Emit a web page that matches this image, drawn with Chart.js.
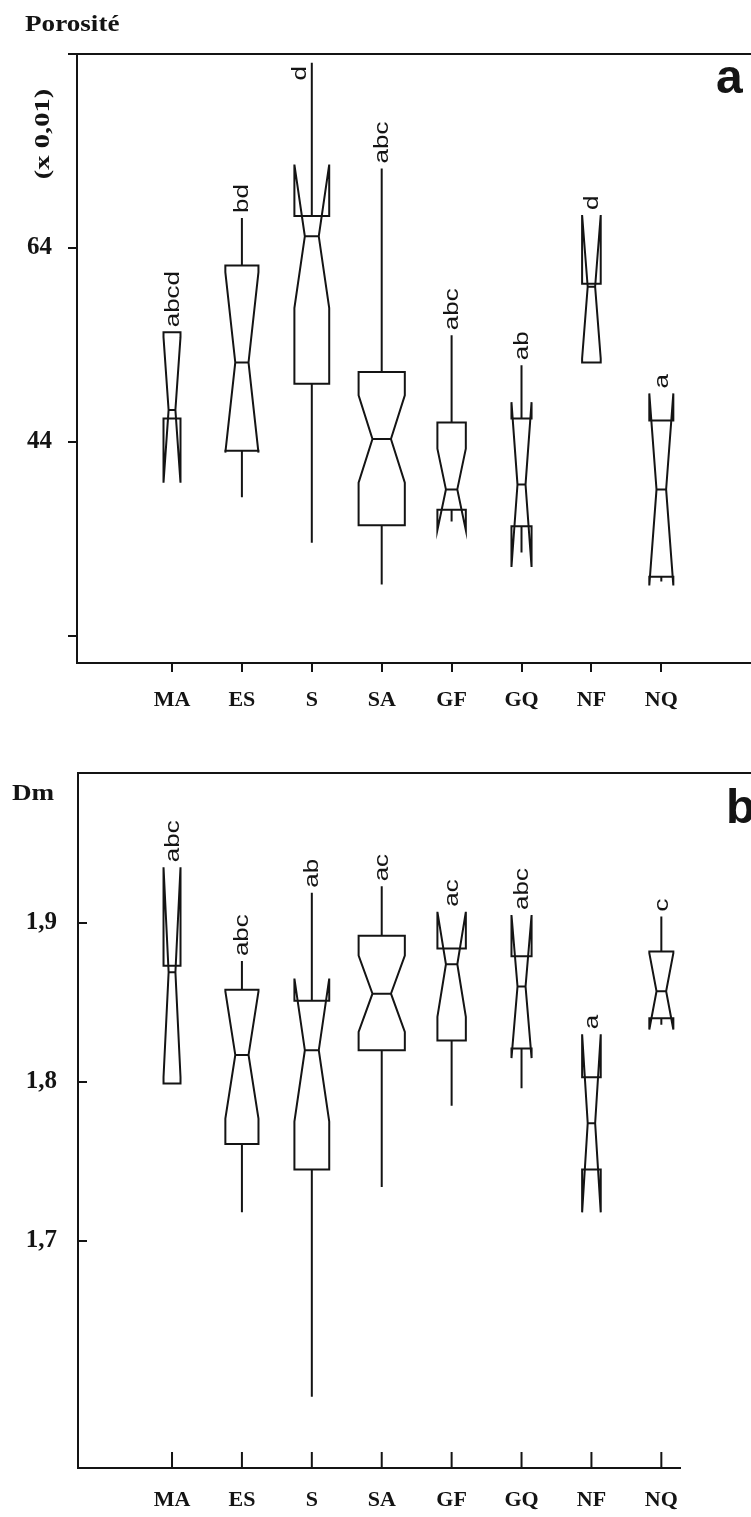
<!DOCTYPE html>
<html>
<head>
<meta charset="utf-8">
<script src="https://cdn.jsdelivr.net/npm/chart.js@4.4.1/dist/chart.umd.min.js"></script>
<style>
  html, body { margin: 0; padding: 0; background: #fff; }
  #wrap { position: relative; width: 751px; height: 1517px; overflow: hidden; }
  canvas { position: absolute; left: 0; }
  #porosite { top: 0; }
  #dm { top: 730px; }
</style>
</head>
<body>
<div id="wrap">
  <canvas id="porosite" width="751" height="730"></canvas>
  <canvas id="dm" width="751" height="787"></canvas>
</div>
<script>
const categories = ["MA", "ES", "S", "SA", "GF", "GQ", "NF", "NQ"];
// box width grows with sqrt(n)
const sampleSize = [5, 19, 21, 37, 14, 7, 6, 10];

// porosity, x 0,01
const porLow    = [46.4, 38.3, 33.6, 29.3, 35.8, 32.6, 52.2, 29.6];
const porQ1     = [46.4, 43.1, 50.0, 35.4, 37.0, 35.3, 52.2, 30.1];
const porMedian = [47.3, 52.2, 65.2, 44.3, 39.1, 39.6, 60.0, 39.1];
const porQ3     = [55.3, 62.2, 67.3, 51.2, 46.0, 46.4, 60.3, 46.2];
const porHigh   = [55.3, 67.1, 83.1, 72.2, 55.0, 51.9, 60.3, 46.2];
const porNotch  = [7.5, 9.3, 7.4, 4.5, 4.2, 8.5, 7.4, 9.9];
const porGroups = ["abcd", "bd", "d", "abc", "abc", "ab", "d", "a"];
const porTicks = [24, 44, 64, 84];
const porTickLabels = ["", "44", "64", ""];

// mass fractal dimension Dm
const dmLow    = [1.799, 1.718, 1.602, 1.734, 1.785, 1.796, 1.745, 1.836];
const dmQ1     = [1.799, 1.761, 1.745, 1.820, 1.826, 1.821, 1.745, 1.840];
const dmMedian = [1.869, 1.817, 1.820, 1.8555, 1.874, 1.860, 1.774, 1.857];
const dmQ3     = [1.873, 1.858, 1.851, 1.892, 1.884, 1.879, 1.803, 1.882];
const dmHigh   = [1.873, 1.876, 1.919, 1.923, 1.884, 1.879, 1.803, 1.904];
const dmNotch  = [0.066, 0.040, 0.045, 0.024, 0.033, 0.045, 0.056, 0.024];
const dmGroups = ["abc", "abc", "ab", "ac", "ac", "abc", "a", "c"];
const dmTicks = [1.7, 1.8, 1.9];
const dmTickLabels = ["1,7", "1,8", "1,9"];

const INK = "#141414";
const SERIF = "'Liberation Serif', 'Times New Roman', serif";
const SANS = "'Liberation Sans', Arial, sans-serif";
const WIDTH_PER_ROOT_N = 0.1087;  // category units
const NOTCH_WAIST = 0.4;          // notch width relative to the box

// notched boxes with whiskers and the group letters above them
const notchedBoxes = (s) => ({
  id: "notchedBoxes",
  afterDatasetsDraw(chart) {
    const { ctx, chartArea, scales: { x, y } } = chart;
    ctx.save();
    ctx.strokeStyle = INK;
    ctx.fillStyle = INK;
    ctx.lineWidth = 2;
    categories.forEach((cat, i) => {
      const cx = x.getPixelForValue(i);
      const hw = x.getPixelForValue(i + WIDTH_PER_ROOT_N * Math.sqrt(sampleSize[i]) / 2) - cx;
      const nw = hw * NOTCH_WAIST;
      const yq1 = y.getPixelForValue(s.q1[i]);
      const yq3 = y.getPixelForValue(s.q3[i]);
      const ymed = y.getPixelForValue(s.median[i]);
      const ynh = y.getPixelForValue(s.median[i] + s.notch[i]);
      const ynl = y.getPixelForValue(s.median[i] - s.notch[i]);

      ctx.beginPath();
      ctx.moveTo(cx - hw, yq3);
      ctx.lineTo(cx - hw, ynh);
      ctx.lineTo(cx - nw, ymed);
      ctx.lineTo(cx - hw, ynl);
      ctx.lineTo(cx - hw, yq1);
      ctx.lineTo(cx + hw, yq1);
      ctx.lineTo(cx + hw, ynl);
      ctx.lineTo(cx + nw, ymed);
      ctx.lineTo(cx + hw, ynh);
      ctx.lineTo(cx + hw, yq3);
      ctx.closePath();
      ctx.moveTo(cx - nw, ymed);
      ctx.lineTo(cx + nw, ymed);
      if (s.high[i] > s.q3[i]) {
        ctx.moveTo(cx, yq3);
        ctx.lineTo(cx, y.getPixelForValue(s.high[i]));
      }
      if (s.low[i] < s.q1[i]) {
        ctx.moveTo(cx, yq1);
        ctx.lineTo(cx, y.getPixelForValue(s.low[i]));
      }
      ctx.stroke();

      // group letters, read upwards
      const top = Math.max(s.high[i], s.q3[i], s.median[i] + s.notch[i]);
      ctx.font = "20px " + SANS;
      const stretch = 1.3;
      const len = ctx.measureText(s.groups[i]).width * stretch;
      let yb = y.getPixelForValue(top) - 5;
      let lx = cx + 1;
      if (yb - len < chartArea.top + 4) {
        yb = chartArea.top + len + 12;
        lx = cx - 11;
      }
      ctx.save();
      ctx.translate(lx, yb);
      ctx.rotate(-Math.PI / 2);
      ctx.scale(stretch, 1);
      ctx.textAlign = "left";
      ctx.textBaseline = "middle";
      ctx.fillText(s.groups[i], 0, 0);
      ctx.restore();
    });
    ctx.restore();
  }
});

// top rule, panel letter, axis captions and inward ticks
const frame = (f) => ({
  id: "frame",
  afterDraw(chart) {
    const { ctx, chartArea, width, scales: { x, y } } = chart;
    ctx.save();
    ctx.strokeStyle = INK;
    ctx.fillStyle = INK;
    ctx.lineWidth = 2;
    ctx.beginPath();
    ctx.moveTo(chartArea.left - 1, chartArea.top);
    ctx.lineTo(width, chartArea.top);
    if (f.inwardTicks) {
      y.ticks.forEach((t) => {
        const py = y.getPixelForValue(t.value);
        ctx.moveTo(chartArea.left, py);
        ctx.lineTo(chartArea.left + 9, py);
      });
      x.ticks.forEach((t) => {
        const px = x.getPixelForValue(t.value);
        ctx.moveTo(px, chartArea.bottom);
        ctx.lineTo(px, chartArea.bottom - 16);
      });
    }
    ctx.stroke();

    ctx.font = "bold 48px " + SANS;
    ctx.textBaseline = "alphabetic";
    ctx.fillText(f.letter, f.letterAt[0], f.letterAt[1]);

    ctx.font = "bold 23px " + SERIF;
    ctx.save();
    ctx.translate(f.nameAt[0], f.nameAt[1]);
    ctx.scale(1.18, 1);
    ctx.fillText(f.name, 0, 0);
    ctx.restore();

    if (f.unit) {
      ctx.save();
      ctx.translate(f.unitAt[0], f.unitAt[1]);
      ctx.rotate(-Math.PI / 2);
      ctx.scale(1.3, 1);
      ctx.font = "bold 22px " + SERIF;
      ctx.textAlign = "center";
      ctx.textBaseline = "middle";
      ctx.fillText(f.unit, 0, 0);
      ctx.restore();
    }
    ctx.restore();
  }
});

const makePanel = (id, s, f) => new Chart(document.getElementById(id), {
  type: "scatter",
  data: {
    datasets: [{
      data: s.median.map((m, i) => ({ x: i, y: m })),
      pointRadius: 0,
      showLine: false,
    }],
  },
  options: {
    responsive: false,
    animation: false,
    layout: { padding: { top: f.top, right: f.right, left: 0, bottom: 0 } },
    plugins: {
      legend: { display: false },
      tooltip: { enabled: false },
    },
    scales: {
      x: {
        type: "linear",
        min: f.xMin,
        max: f.xMax,
        afterFit: (scale) => { scale.height = f.xAxisHeight; },
        afterBuildTicks: (scale) => {
          scale.ticks = categories.map((c, i) => ({ value: i }));
        },
        ticks: {
          autoSkip: false,
          maxRotation: 0,
          padding: f.xPad,
          color: INK,
          font: { family: SERIF, size: 22, weight: "bold" },
          callback: (value) => categories[value],
        },
        grid: {
          drawOnChartArea: false,
          drawTicks: !f.inwardTicks,
          tickLength: 9,
          lineWidth: 2,
          color: INK,
        },
        border: { display: true, color: INK, width: 2 },
      },
      y: {
        type: "linear",
        min: f.yMin,
        max: f.yMax,
        afterFit: (scale) => { scale.width = f.yAxisWidth; },
        afterBuildTicks: (scale) => {
          scale.ticks = s.ticks.map((v) => ({ value: v }));
        },
        ticks: {
          padding: f.yPad,
          color: INK,
          font: { family: SERIF, size: 25, weight: "bold" },
          callback: (value, index) => s.tickLabels[index],
        },
        grid: {
          drawOnChartArea: false,
          drawTicks: !f.inwardTicks,
          tickLength: 9,
          lineWidth: 2,
          color: INK,
        },
        border: { display: true, color: INK, width: 2 },
      },
    },
  },
  plugins: [notchedBoxes(s), frame(f)],
});

makePanel("porosite", {
  low: porLow, q1: porQ1, median: porMedian, q3: porQ3, high: porHigh,
  notch: porNotch, groups: porGroups, ticks: porTicks, tickLabels: porTickLabels,
}, {
  top: 54, right: 0, xAxisHeight: 67, yAxisWidth: 77,
  xMin: -1.359, xMax: 8.283, yMin: 21.2, yMax: 84,
  xPad: 15, yPad: 16, inwardTicks: false,
  letter: "a", letterAt: [716, 93],
  name: "Porosité", nameAt: [25, 31],
  unit: "(x 0,01)", unitAt: [43, 134],
});

makePanel("dm", {
  low: dmLow, q1: dmQ1, median: dmMedian, q3: dmQ3, high: dmHigh,
  notch: dmNotch, groups: dmGroups, ticks: dmTicks, tickLabels: dmTickLabels,
}, {
  top: 43, right: 71, xAxisHeight: 49, yAxisWidth: 78,
  xMin: -1.345, xMax: 7.267, yMin: 1.5572, yMax: 1.9943,
  xPad: 19, yPad: 21, inwardTicks: true,
  letter: "b", letterAt: [726, 93],
  name: "Dm", nameAt: [12, 70],
  unit: null,
});
</script>
</body>
</html>
